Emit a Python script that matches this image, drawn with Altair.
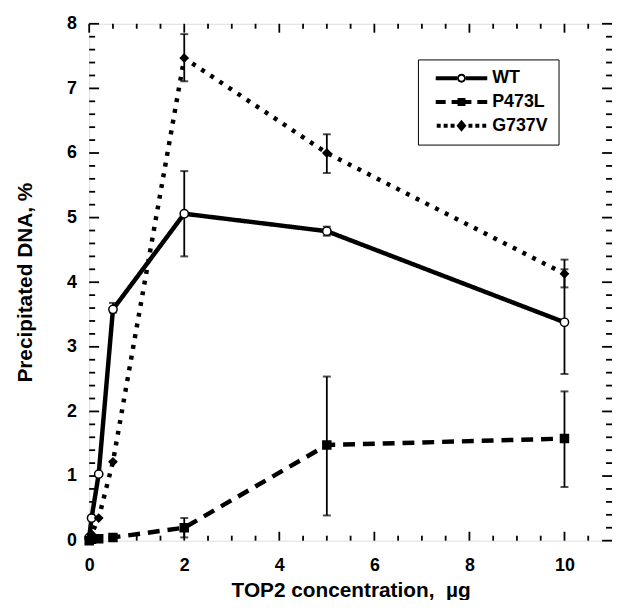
import altair as alt
import pandas as pd

# ---- data ----
series_names = ["WT", "P473L", "G737V"]
conc = [0, 0.05, 0.2, 0.5, 2, 5, 10]
wt = [0.05, 0.35, 1.03, 3.58, 5.06, 4.79, 3.38]
p473l = [0.0, 0.02, 0.03, 0.05, 0.2, 1.48, 1.58]
g737v = [0.02, 0.1, 0.35, 1.22, 7.47, 6.0, 4.13]

err_conc = [0.5, 2, 5, 10]
wt_lo = [3.53, 4.40, 4.72, 2.58]
wt_hi = [3.68, 5.72, 4.86, 4.20]
p473l_lo = [None, 0.05, 0.39, 0.83]
p473l_hi = [None, 0.35, 2.54, 2.31]
g737v_lo = [None, 7.11, 5.69, 3.92]
g737v_hi = [None, 7.84, 6.29, 4.35]

x_major = [0, 2, 4, 6, 8, 10]
x_minor = [i / 2 for i in range(1, 22) if i % 4]
y_major = list(range(0, 9))
y_minor = [i / 5 for i in range(1, 40) if i % 5]

# ---- tables ----
rows = []
for name, vals in zip(series_names, [wt, p473l, g737v]):
    for xv, yv in zip(conc, vals):
        rows.append({"series": name, "conc": xv, "value": yv})
df = pd.DataFrame(rows)

erows = []
for name, lo, hi in zip(series_names, [wt_lo, p473l_lo, g737v_lo], [wt_hi, p473l_hi, g737v_hi]):
    for xv, l, h in zip(err_conc, lo, hi):
        if l is not None:
            erows.append({"series": name, "conc": xv, "lo": l, "hi": h})
edf = pd.DataFrame(erows)

W, H = 528, 522
FONT = "Liberation Sans"

xscale = alt.Scale(domain=[0, 11], nice=False, zero=False)
yscale = alt.Scale(domain=[0, 8], nice=False, zero=False)
xaxis = alt.Axis(values=x_major, ticks=False, domain=False, grid=False,
                 labelFont=FONT, labelFontWeight="bold", labelFontSize=18,
                 labelColor="black", labelPadding=16,
                 title="TOP2 concentration,\u00a0 µg", titleFont=FONT,
                 titleFontWeight="bold", titleFontSize=21, titleColor="black",
                 titlePadding=5, labelFlush=False)
yaxis = alt.Axis(values=y_major, ticks=False, domain=False, grid=False,
                 labelFont=FONT, labelFontWeight="bold", labelFontSize=18,
                 labelColor="black", labelPadding=13,
                 title="Precipitated DNA, %", titleFont=FONT,
                 titleFontWeight="bold", titleFontSize=21, titleColor="black",
                 titlePadding=31, labelFlush=False)

X = alt.X("conc:Q", scale=xscale, axis=xaxis)
Y = alt.Y("value:Q", scale=yscale, axis=yaxis)

dash_scale = alt.Scale(domain=series_names, range=[[1, 0], [12, 8], [4, 7]])

lines = alt.Chart(df).mark_line(color="black", strokeWidth=4.5, strokeCap="butt").encode(
    x=X, y=Y,
    strokeDash=alt.StrokeDash("series:N", scale=dash_scale, legend=None),
    detail="series:N",
)

err_rule = alt.Chart(edf).mark_rule(color="black", strokeWidth=1.8).encode(
    x=alt.X("conc:Q", scale=xscale, axis=xaxis),
    y=alt.Y("lo:Q", scale=yscale, axis=yaxis),
    y2="hi:Q",
)
cap_lo = alt.Chart(edf).mark_tick(color="black", orient="horizontal", size=8, thickness=2).encode(
    x=alt.X("conc:Q", scale=xscale, axis=xaxis),
    y=alt.Y("lo:Q", scale=yscale, axis=yaxis),
)
cap_hi = alt.Chart(edf).mark_tick(color="black", orient="horizontal", size=8, thickness=2).encode(
    x=alt.X("conc:Q", scale=xscale, axis=xaxis),
    y=alt.Y("hi:Q", scale=yscale, axis=yaxis),
)

points = alt.Chart(df).mark_point(stroke="black", strokeWidth=1.5, opacity=1, filled=False).encode(
    x=X, y=Y,
    shape=alt.Shape("series:N", scale=alt.Scale(domain=series_names,
                                                range=["circle", "square", "diamond"]), legend=None),
    fill=alt.Fill("series:N", scale=alt.Scale(domain=series_names,
                                              range=["white", "black", "black"]), legend=None),
    size=alt.Size("series:N", scale=alt.Scale(domain=series_names, range=[70, 60, 100]), legend=None),
)

# legend symbols: line + marker drawn as filled paths (pixel units at symbolSize 4)
wt_sym = ("M-26,-2H-4.5V2H-26Z M4.5,-2H26V2H4.5Z "
          "M4.5,0A4.5,4.5 0 1,0 -4.5,0A4.5,4.5 0 1,0 4.5,0Z "
          "M2.6,0A2.6,2.6 0 1,1 -2.6,0A2.6,2.6 0 1,1 2.6,0Z")
p_sym = ("M-26,-2H-16V2H-26Z M-10,-2H-4V2H-10Z M-4,-4H4V4H-4Z "
         "M4,-2H10V2H4Z M16,-2H26V2H16Z")
g_sym = ("M-25,-2H-21V2H-25Z M-18,-2H-14V2H-18Z M-11,-2H-7V2H-11Z "
         "M0,-6L5,0L0,6L-5,0Z "
         "M7,-2H11V2H7Z M14,-2H18V2H14Z M21,-2H25V2H21Z")

legend_layer = alt.Chart(df).transform_filter("false").mark_point(
    filled=True, color="black").encode(
    x=X, y=Y,
    shape=alt.Shape("series:N",
                    scale=alt.Scale(domain=series_names, range=[wt_sym, p_sym, g_sym]),
                    legend=alt.Legend(title=None, orient="none", legendX=332, legendY=36,
                                      symbolSize=4, symbolStrokeWidth=0,
                                      symbolFillColor="black", symbolOpacity=1,
                                      symbolOffset=25, labelOffset=22,
                                      labelFont=FONT, labelFontWeight="bold",
                                      labelFontSize=18, labelColor="black",
                                      rowPadding=6, padding=10,
                                      strokeColor="black",
                                      fillColor="white")),
)

# inward ticks on all four sides
ytick_major = pd.DataFrame({"tv": y_major})
ytick_minor = pd.DataFrame({"tv": y_minor})
xtick_major = pd.DataFrame({"tv": x_major})
xtick_minor = pd.DataFrame({"tv": x_minor})

def yticks(data, length):
    yy = alt.Y("tv:Q", scale=yscale, axis=yaxis)
    left = alt.Chart(data).mark_rule(color="black", strokeWidth=1.8).encode(
        y=yy, x=alt.value(0), x2=alt.value(length))
    right = alt.Chart(data).mark_rule(color="black", strokeWidth=1.8).encode(
        y=yy, x=alt.value(W - length), x2=alt.value(W))
    return [left, right]

def xticks(data, length):
    xx = alt.X("tv:Q", scale=xscale, axis=xaxis)
    bottom = alt.Chart(data).mark_rule(color="black", strokeWidth=1.8).encode(
        x=xx, y=alt.value(H - length), y2=alt.value(H))
    top = alt.Chart(data).mark_rule(color="black", strokeWidth=1.8).encode(
        x=xx, y=alt.value(0), y2=alt.value(length))
    return [bottom, top]

tick_layers = (yticks(ytick_major, 10) + yticks(ytick_minor, 6)
               + xticks(xtick_major, 9) + xticks(xtick_minor, 5))

chart = alt.layer(
    lines, *tick_layers, err_rule, cap_lo, cap_hi, points, legend_layer
).resolve_scale(
    shape="independent"
).properties(
    width=W, height=H,
    autosize=alt.AutoSizeParams(type="none"),
    padding={"left": 82, "top": 13, "right": 0, "bottom": 57},
).configure_view(
    stroke="black", strokeWidth=2.5
).configure_legend(
    strokeWidth=1.5
).configure(background="white")

chart.save("out.html", embed_options={"renderer": "svg", "actions": False})
